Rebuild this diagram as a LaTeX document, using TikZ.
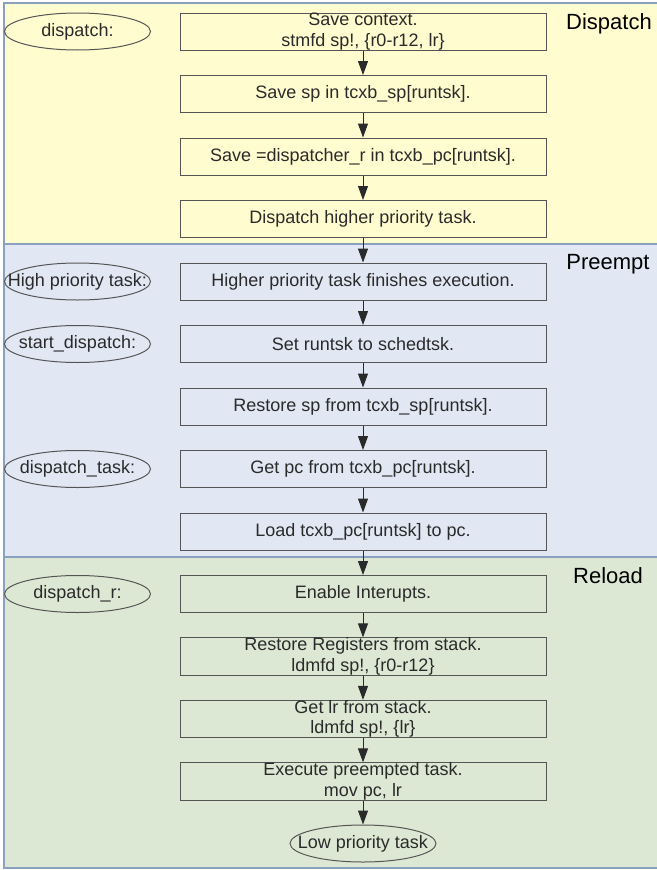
\documentclass[tikz,border=0pt]{standalone}
\usepackage{fontspec}
\setmainfont{Liberation Sans}
\usetikzlibrary{shapes.geometric,arrows.meta}
\definecolor{panY}{HTML}{FFFDD0}
\definecolor{panB}{HTML}{E1E8F4}
\definecolor{panG}{HTML}{DDE8D4}
\definecolor{panEdge}{HTML}{8AA2C0}
\definecolor{ink}{HTML}{2A2A2A}
\newcommand\zc[1]{\makebox[0pt]{#1}}
\begin{document}
\begin{tikzpicture}[x=1pt,y=-1pt,
  panel/.style={draw=panEdge,line width=1.5pt},
  stepbox/.style={draw=ink!80,line width=1pt,minimum width=366pt,minimum height=37pt,inner sep=0pt,align=center,font=\fontsize{18pt}{20.5pt}\selectfont,text=ink},
  lbl/.style={ellipse,draw=ink!80,line width=1pt,minimum width=146pt,minimum height=37pt,inner sep=0pt,font=\fontsize{18pt}{20.5pt}\selectfont,text=ink},
  sect/.style={anchor=base,font=\fontsize{22pt}{24pt}\selectfont,text=black},
  arr/.style={draw=ink,line width=1pt,-{Triangle[length=14pt,width=10pt]}}]
\useasboundingbox (0,0) rectangle (656,870);
% panels
\path[panel,fill=panY] (4,3) rectangle (662,244);
\path[panel,fill=panB] (4,244) rectangle (662,557);
\path[panel,fill=panG] (4,557) rectangle (662,868);
% section titles
\node[sect] (tD) at (609,29.5) {Dispatch};
\node[sect] (tP) at (608,269.5) {Preempt};
\node[sect] (tR) at (608,583) {Reload};
% boxes
\node[stepbox] (b1) at (363,31.5) {Save context.\\stmfd sp!, \{r0-r12, lr\}};
\node[stepbox] (b2) at (363,94) {Save sp in tcxb\_sp[runtsk].};
\node[stepbox] (b3) at (363,156.5) {Save =dispatcher\_r in tcxb\_pc[runtsk].};
\node[stepbox] (b4) at (363,219) {Dispatch higher priority task.};
\node[stepbox] (b5) at (363,281.5) {Higher priority task finishes execution.};
\node[stepbox] (b6) at (363,344) {Set runtsk to schedtsk.};
\node[stepbox] (b7) at (363,406.5) {Restore sp from tcxb\_sp[runtsk].};
\node[stepbox] (b8) at (363,469) {Get pc from tcxb\_pc[runtsk].};
\node[stepbox] (b9) at (363,531.5) {Load tcxb\_pc[runtsk] to pc.};
\node[stepbox] (b10) at (363,594) {Enable Interupts.};
\node[stepbox] (b11) at (363,656.5) {Restore Registers from stack.\\ldmfd sp!, \{r0-r12\}};
\node[stepbox] (b12) at (363,719) {Get lr from stack.\\ldmfd sp!, \{lr\}};
\node[stepbox] (b13) at (363,781.5) {Execute preempted task.\\mov pc, lr};
\node[lbl] (low) at (363,843.5) {\zc{Low priority task}};
% side labels
\node[lbl] (e1) at (77.5,31.5) {\zc{dispatch:}};
\node[lbl] (e2) at (77.5,281.5) {\zc{High priority task:}};
\node[lbl] (e3) at (77.5,344) {\zc{start\_dispatch:}};
\node[lbl] (e4) at (77.5,469) {\zc{dispatch\_task:}};
\node[lbl] (e5) at (77.5,594) {\zc{dispatch\_r:}};
% arrows
\foreach \a/\b in {b1/b2,b2/b3,b3/b4,b4/b5,b5/b6,b6/b7,b7/b8,b8/b9,b9/b10,b10/b11,b11/b12,b12/b13,b13/low}
  \draw[arr] (\a.south) -- (\b.north);
\end{tikzpicture}
\end{document}
